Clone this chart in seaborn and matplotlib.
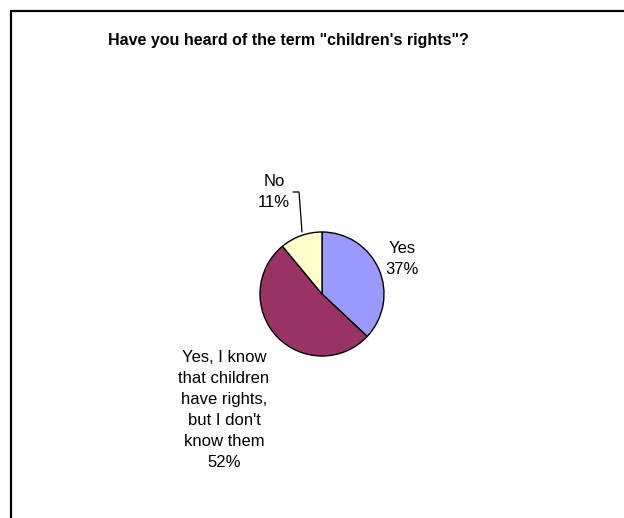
import matplotlib
matplotlib.use("Agg")
import matplotlib.pyplot as plt
import seaborn as sns

sns.set_theme(style="white")
plt.rcParams["font.family"] = ["Liberation Sans", "DejaVu Sans"]

title = 'Have you heard of the term "children\'s rights"?'
categories = ["Yes", "Yes, I know\nthat children\nhave rights,\nbut I don't\nknow them", "No"]
shares = [37, 52, 11]
colors = ["#9999FF", "#993366", "#FFFFCC"]

W, H = 624, 518
fig = plt.figure(figsize=(W / 100, H / 100), dpi=100)
ax = fig.add_axes([0, 0, 1, 1])

cx, cy, r = 322, H - 294, 62
ax.pie(shares, colors=colors, startangle=90, counterclock=False,
       center=(cx, cy), radius=r, frame=True,
       wedgeprops=dict(edgecolor="black", linewidth=1.0))
ax.set_xlim(0, W)
ax.set_ylim(0, H)
ax.set_aspect("equal")
ax.axis("off")

label_pos = [(402, H - 259), (224, H - 410), (274, H - 192)]
for cat, val, (x, y) in zip(categories, shares, label_pos):
    ax.text(x, y, f"{cat}\n{val}%", ha="center", va="center",
            fontsize=12, linespacing=1.5, color="black")

# leader line from the small "No" slice to its label
ax.plot([293, 299, 302], [H - 192, H - 192, H - 232], color="black", lw=0.9)

fig.text(288 / W, 1 - 40 / H, title, ha="center", va="center",
         fontsize=11.5, fontweight="bold", color="black")

# chart area frame (left and top edges)
fig.add_artist(plt.Line2D([11 / W, 11 / W], [0, 1 - 11 / H], color="black", lw=1.6,
                          transform=fig.transFigure))
fig.add_artist(plt.Line2D([11 / W, 1], [1 - 11 / H, 1 - 11 / H], color="black", lw=1.6,
                          transform=fig.transFigure))

fig.savefig("out.png", dpi=100, facecolor="white")
